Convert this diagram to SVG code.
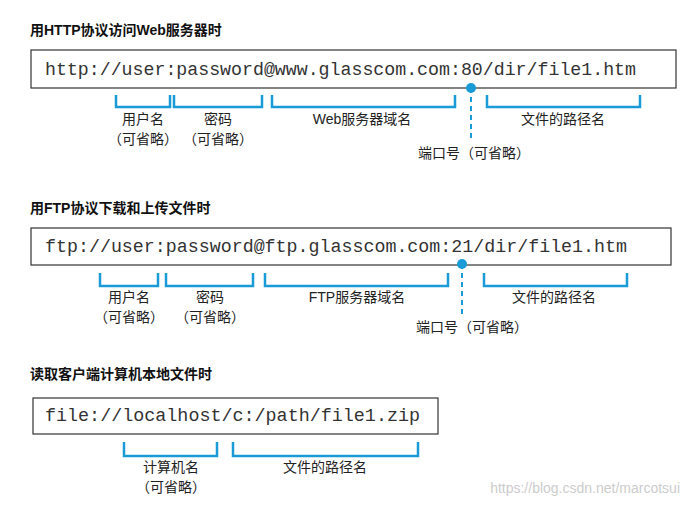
<svg xmlns="http://www.w3.org/2000/svg" width="691" height="505" viewBox="0 0 691 505">
<style>
.t{font-family:"Liberation Sans","Noto Sans CJK SC",sans-serif;font-size:14px;font-weight:bold;fill:#111}
.u{font-family:"Liberation Mono",monospace;font-size:18px;fill:#333}
.l{font-family:"Liberation Sans","Noto Sans CJK SC",sans-serif;font-size:14px;fill:#222;text-anchor:middle}
.box{fill:#fff;stroke:#333;stroke-width:1.2}
.br{fill:none;stroke:#1a9bd7;stroke-width:2.5}
.ds{stroke:#1a9bd7;stroke-width:2;stroke-dasharray:5,4}
.dot{fill:#1a9bd7}
</style>
<rect width="691" height="505" fill="#fff"/>
<text class="t" x="30" y="35">用HTTP协议访问Web服务器时</text>
<g id="url1"><rect class="box" x="31" y="50" width="645" height="38"/><text class="u" x="45" y="75" textLength="591" lengthAdjust="spacingAndGlyphs">http://user:password@www.glasscom.com:80/dir/file1.htm</text></g>
<g id="conn1">
<path class="br" d="M116 95V107H170V95M174 95V107H262V95M272 95V107H455V95M487 95V107H640V95"/>
<line class="ds" x1="471" y1="88" x2="471" y2="138"/><circle class="dot" cx="471" cy="88" r="5"/>
</g>
<g id="labels1">
<text class="l" x="143" y="124">用户名</text><text class="l" x="143" y="144">（可省略）</text>
<text class="l" x="218" y="124">密码</text><text class="l" x="218" y="144">（可省略）</text>
<text class="l" x="362" y="124">Web服务器域名</text>
<text class="l" x="563" y="124">文件的路径名</text>
<text class="l" x="474" y="158">端口号（可省略）</text>
</g>
<text class="t" x="30" y="213">用FTP协议下载和上传文件时</text>
<g id="url2"><rect class="box" x="31" y="228" width="640" height="37"/><text class="u" x="45" y="252" textLength="582" lengthAdjust="spacingAndGlyphs">ftp://user:password@ftp.glasscom.com:21/dir/file1.htm</text></g>
<g id="conn2">
<path class="br" d="M100 273V286H158V273M166 273V286H253V273M265 273V286H448V273M484 273V286H627V273"/>
<line class="ds" x1="462" y1="264" x2="462" y2="314"/><circle class="dot" cx="462" cy="264" r="5"/>
</g>
<g id="labels2">
<text class="l" x="129" y="302">用户名</text><text class="l" x="129" y="322">（可省略）</text>
<text class="l" x="210" y="302">密码</text><text class="l" x="210" y="322">（可省略）</text>
<text class="l" x="357" y="302">FTP服务器域名</text>
<text class="l" x="554" y="302">文件的路径名</text>
<text class="l" x="472" y="332">端口号（可省略）</text>
</g>
<text class="t" x="30" y="379">读取客户端计算机本地文件时</text>
<g id="url3"><rect class="box" x="33" y="398" width="405" height="36"/><text class="u" x="45" y="421" textLength="375" lengthAdjust="spacingAndGlyphs">file://localhost/c:/path/file1.zip</text></g>
<g id="conn3"><path class="br" d="M124 442V456H217V442M233 442V456H418V442"/></g>
<g id="labels3">
<text class="l" x="171" y="472">计算机名</text><text class="l" x="171" y="492">（可省略）</text>
<text class="l" x="325" y="472">文件的路径名</text>
</g>
<text x="680" y="493" text-anchor="end" style="font-family:'Liberation Sans',sans-serif;font-size:14px;fill:#ccc">https://blog.csdn.net/marcotsui</text>
</svg>
